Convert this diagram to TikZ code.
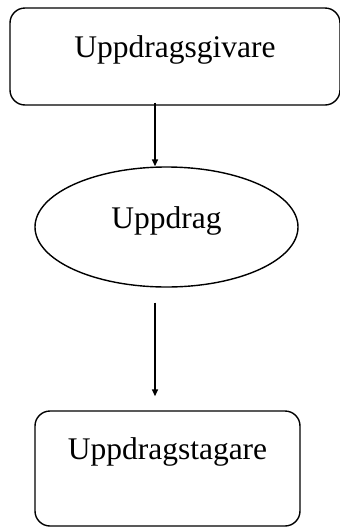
\documentclass[tikz,border=0pt]{standalone}
\usepackage{fontspec}
\setmainfont{Liberation Serif}
\usetikzlibrary{arrows.meta,shapes.geometric}

\tikzset{
    roundbox/.style={draw, line width=1.4pt, rounded corners=15pt, inner sep=0pt},
    flowarrow/.style={-{Triangle[length=7pt,width=6pt]}, line width=1.4pt}
}

\begin{document}
\begin{tikzpicture}[x=1pt, y=-1pt, font=\fontsize{31.5}{36}\selectfont]
        \useasboundingbox (0,0) rectangle (340,528);

        \node[roundbox, minimum width=330pt, text height=49pt, text depth=48pt] (givare) at (175,56.5) {Uppdragsgivare};
        \node[draw, ellipse, line width=1.4pt, inner sep=0pt, minimum width=263pt, minimum height=120pt, text height=2pt, text depth=0pt] (uppdrag) at (166.5,227) {Uppdrag};
        \node[roundbox, minimum width=265pt, text height=48pt, text depth=67pt] (tagare) at (167.5,468.5) {Uppdragstagare};

        \coordinate (axis) at (155,0);
        \draw[flowarrow] ([yshift=3pt]givare.south -| axis) -- (uppdrag.north -| axis);
        \draw[flowarrow] ([yshift=-15pt]uppdrag.south -| axis) -- ([yshift=14pt]tagare.north -| axis);
    \end{tikzpicture}
\end{document}
